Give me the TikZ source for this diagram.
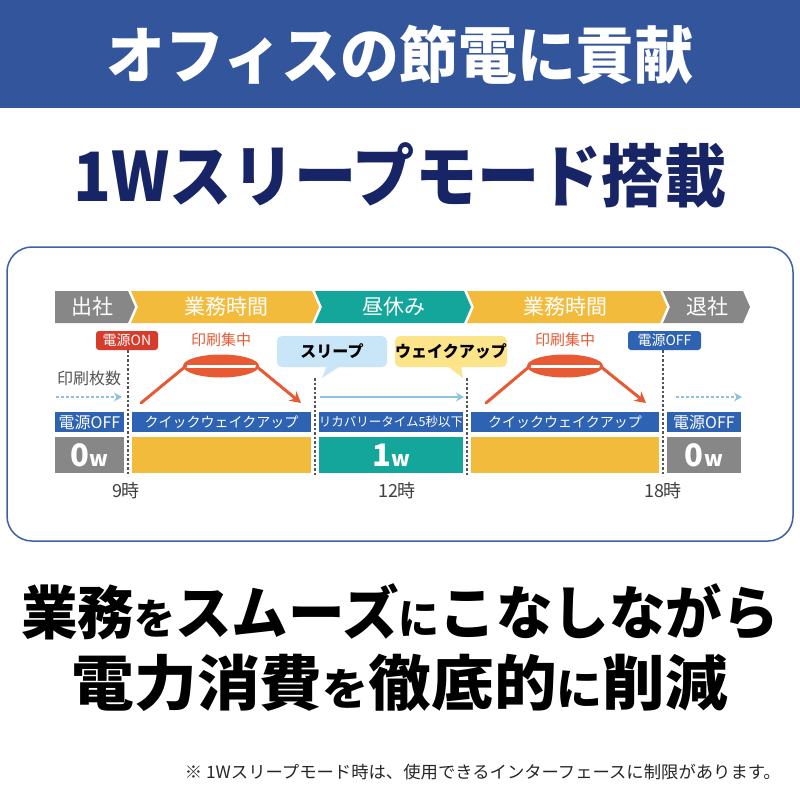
\documentclass[tikz,border=0pt]{standalone}
\usepackage{fontspec}
\setmainfont{Noto Sans CJK JP}
\newfontfamily\jp{Noto Sans CJK JP}
\usetikzlibrary{arrows.meta}
\definecolor{bannerblue}{HTML}{33559B}
\definecolor{navy}{HTML}{172567}
\definecolor{frameblue}{HTML}{3D5FA6}
\definecolor{segray}{HTML}{878787}
\definecolor{segyellow}{HTML}{F3BB3B}
\definecolor{segteal}{HTML}{14A59B}
\definecolor{barblue}{HTML}{2E62B2}
\definecolor{onred}{HTML}{D63B2C}
\definecolor{printorange}{HTML}{E75A33}
\definecolor{arrowblue}{HTML}{8EC3DE}
\definecolor{sleepblue}{HTML}{C8E6F7}
\definecolor{wakeyellow}{HTML}{FCE48A}
\definecolor{labelgray}{HTML}{555555}
\newcommand\fs[1]{\fontsize{#1}{#1}\selectfont}
\tikzset{
  hdrtext/.style={text=white, font=\jp\fs{21}, inner sep=0},
  bluebar/.style={fill=barblue, text=white, minimum height=20pt, inner sep=0, font=\jp\fs{14}},
  powerbox/.style={minimum height=36pt, inner sep=0, text=white, font=\jp\bfseries},
  tag/.style={rounded corners=3pt, text=white, inner sep=0, minimum height=19pt, font=\jp\fs{14}},
  callout/.style={rounded corners=5pt, inner sep=0, minimum height=31pt, font=\jp\bfseries\fs{16}},
  guide/.style={draw=labelgray, line width=1.2pt, dash pattern=on 2.5pt off 2pt},
  flowarrow/.style={draw=arrowblue, line width=2.5pt, -{Stealth[length=8pt,width=9pt]}},
  printline/.style={draw=printorange, line width=3pt},
  timelabel/.style={text=black!75, font=\jp\fs{18}, inner sep=0},
  printlabel/.style={text=printorange, font=\jp\fs{15}, inner sep=0},
}
\begin{document}
\begin{tikzpicture}[x=1pt,y=-1pt]
\useasboundingbox (0,0) rectangle (800,800);
\fill[white] (0,0) rectangle (800,800);
% banner
\fill[bannerblue] (0,0) rectangle (800,108);
\node[text=white, font=\jp\bfseries\fs{60}, inner sep=0] (title) at (400,55) {\scalebox{0.98}[1.03]{オフィスの節電に貢献}};
\node[text=navy, font=\jp\bfseries\fs{68}, inner sep=0] (subtitle) at (400,175) {\scalebox{0.915}[1]{1Wスリープモード搭載}};
% chart frame
\draw[frameblue, line width=1.5pt, rounded corners=25pt] (7,247) rectangle (793,541);
% header chevrons
\fill[segray] (55,291) -- (128,291) -- (135,307) -- (128,323) -- (55,323) -- cycle;
\fill[segyellow] (131,291) -- (312,291) -- (319,307) -- (312,323) -- (131,323) -- (138,307) -- cycle;
\fill[segteal] (315,291) -- (464,291) -- (471,307) -- (464,323) -- (315,323) -- (322,307) -- cycle;
\fill[segyellow] (467,291) -- (660,291) -- (667,307) -- (660,323) -- (467,323) -- (474,307) -- cycle;
\fill[segray] (663,291) -- (743,291) -- (750,307) -- (743,323) -- (663,323) -- (670,307) -- cycle;
\node[hdrtext] (h1) at (92,307) {出社};
\node[hdrtext] (h2) at (226,307) {業務時間};
\node[hdrtext] (h3) at (394,307) {昼休み};
\node[hdrtext] (h4) at (565,307) {業務時間};
\node[hdrtext] (h5) at (707,307) {退社};
% guides
\coordinate (g1t) at (128,350); \coordinate (g1b) at (128,476);
\coordinate (g2t) at (315,378); \coordinate (g2b) at (315,476);
\coordinate (g3t) at (467,378); \coordinate (g3b) at (467,476);
\coordinate (g4t) at (663,350); \coordinate (g4b) at (663,476);
\draw[guide] (g1t) -- (g1b);
\draw[guide] (g2t) -- (g2b);
\draw[guide] (g3t) -- (g3b);
\draw[guide] (g4t) -- (g4b);
% tags
\node[tag, fill=onred, minimum width=62pt] (on) at (127,340.5) {電源ON};
\node[tag, fill=barblue, minimum width=73pt] (offtag) at (664.5,340.5) {電源OFF};
% callouts
\fill[sleepblue] (327,365) -- (342,365) -- (322,378) -- cycle;
\node[callout, fill=sleepblue, minimum width=110pt] (sleep) at (332,351.5) {スリープ};
\fill[wakeyellow] (446,365) -- (461,365) -- (463,378) -- cycle;
\node[callout, fill=wakeyellow, minimum width=112pt] (wake) at (451,351.5) {ウェイクアップ};
% print labels
\node[printlabel] (p1) at (221,340) {印刷集中};
\node[printlabel] (p2) at (565,340) {印刷集中};
\node[text=labelgray, font=\jp\fs{16}, inner sep=0] (count) at (89,378) {印刷枚数};
% print peaks
\fill[printorange] (221,366) ellipse [x radius=38, y radius=11.5];
\fill[printorange] (565,366) ellipse [x radius=38, y radius=11.5];
\coordinate (a1) at (141,403); \coordinate (a2) at (186,366);
\coordinate (a3) at (256,366); \coordinate (a4) at (301,403);
\coordinate (b1) at (486,403); \coordinate (b2) at (530,366);
\coordinate (b3) at (600,366); \coordinate (b4) at (646,403);
\draw[white, line width=3pt] (a2) -- (a3);
\draw[white, line width=3pt] (b2) -- (b3);
\draw[printline, line cap=round] (a1) -- (a2);
\draw[printline, -{Stealth[length=11pt,width=12pt]}] (a3) -- (a4);
\draw[printline, line cap=round] (b1) -- (b2);
\draw[printline, -{Stealth[length=11pt,width=12pt]}] (b3) -- (b4);
% flow arrows
\coordinate (f1s) at (56,397); \coordinate (f1e) at (122,397);
\coordinate (f2s) at (320,397); \coordinate (f2e) at (464,397);
\coordinate (f3s) at (676,397); \coordinate (f3e) at (742,397);
\draw[flowarrow, dash pattern=on 3pt off 2pt] (f1s) -- (f1e);
\draw[flowarrow] (f2s) -- (f2e);
\draw[flowarrow, dash pattern=on 3pt off 2pt] (f3s) -- (f3e);
% blue bars
\node[bluebar, minimum width=69pt, font=\jp\fs{16}] (s1) at (89.5,422) {電源OFF};
\node[bluebar, minimum width=179pt] (s2) at (221.5,422) {クイックウェイクアップ};
\node[bluebar, minimum width=144pt, font=\jp\fs{12.5}] (s3) at (391,422) {リカバリータイム5秒以下};
\node[bluebar, minimum width=188pt] (s4) at (565,422) {クイックウェイクアップ};
\node[bluebar, minimum width=74pt, font=\jp\fs{16}] (s5) at (704,422) {電源OFF};
% power boxes
\node[powerbox, fill=segray, minimum width=69pt] (w1) at (89.5,455) {{\fs{31}0}{\fs{21}w}};
\node[powerbox, fill=segyellow, minimum width=179pt] (w2) at (221.5,455) {};
\node[powerbox, fill=segteal, minimum width=144pt] (w3) at (391,455) {{\fs{31}1}{\fs{21}w}};
\node[powerbox, fill=segyellow, minimum width=188pt] (w4) at (565,455) {};
\node[powerbox, fill=segray, minimum width=74pt] (w5) at (704,455) {{\fs{31}0}\,{\fs{21}w}};
% times
\node[timelabel] (t1) at (126,491) {9時};
\node[timelabel] (t2) at (397,491) {12時};
\node[timelabel] (t3) at (663,491) {18時};
% bottom message
\node[font=\jp\bfseries, inner sep=0] (m1) at (400,612) {\scalebox{0.975}[1]{\fs{58}業務\fs{42}を\fs{58}スムーズ\fs{42}に\fs{58}こなしながら}};
\node[font=\jp\bfseries, inner sep=0] (m2) at (400,683) {\scalebox{1.045}[1]{\fs{60}電力消費\fs{44}を\fs{60}徹底的\fs{44}に\fs{60}削減}};
\node[font=\jp\fs{17}, text=black!85, anchor=east, inner sep=0] (note) at (781,772) {\scalebox{1.02}[1]{※ 1Wスリープモード時は、使用できるインターフェースに制限があります。}};
\end{tikzpicture}
\end{document}
